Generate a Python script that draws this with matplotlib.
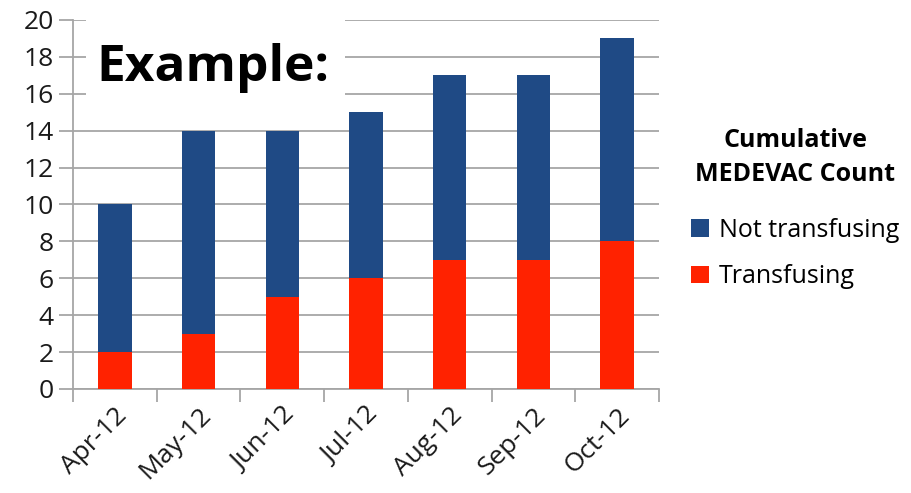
import matplotlib
matplotlib.use("Agg")
import matplotlib.pyplot as plt
import numpy as np
from matplotlib.patches import Rectangle, Patch

months = ["Apr-12", "May-12", "Jun-12", "Jul-12", "Aug-12", "Sep-12", "Oct-12"]
transfusing = [2, 3, 5, 6, 7, 7, 8]
not_transfusing = [8, 11, 9, 9, 10, 10, 11]
y_ticks = [0, 2, 4, 6, 8, 10, 12, 14, 16, 18, 20]

navy = "#1F4A85"
red = "#FF2200"
grid_c = "#A6A6A6"
font = ["Open Sans", "DejaVu Sans"]

fig = plt.figure(figsize=(9.12, 4.93), dpi=100)
ax = fig.add_axes([0.080, 0.211, 0.6426, 0.7486])

x = np.arange(len(months))
ax.bar(x, transfusing, width=0.4, color=red, zorder=3)
ax.bar(x, not_transfusing, width=0.4, bottom=transfusing, color=navy, zorder=3)

ax.set_xlim(-0.5, len(months) - 0.5)
ax.set_ylim(0, 20)
ax.set_yticks(y_ticks)
ax.set_yticklabels([str(v) for v in y_ticks], fontsize=19, family=font, color="#1a1a1a")
ax.yaxis.grid(True, color=grid_c, linewidth=1.3, zorder=0)
ax.set_axisbelow(True)

# category boundaries carry the tick marks, labels sit at the centres
ax.set_xticks(np.arange(-0.5, len(months) + 0.5, 1.0))
ax.set_xticklabels([])
ax.set_xticks(x, minor=True)
ax.set_xticklabels(months, minor=True, rotation=45, ha="right", rotation_mode="anchor",
                   fontsize=19, family=font, color="#1a1a1a")
ax.tick_params(axis="x", which="minor", length=0, pad=10)
ax.tick_params(axis="x", which="major", length=9, color=grid_c, width=1.3)
ax.tick_params(axis="y", length=10, color=grid_c, width=1.3, pad=4)

for s in ["top", "right"]:
    ax.spines[s].set_visible(False)
for s in ["left", "bottom"]:
    ax.spines[s].set_color(grid_c)
    ax.spines[s].set_linewidth(1.3)

# white panel behind the heading
ax.add_patch(Rectangle((-0.35, 15.4), 3.1, 5.4, transform=ax.transData,
                       facecolor="white", edgecolor="none", zorder=2, clip_on=False))
ax.text(-0.22, 17.4, "Example:", fontsize=37, fontweight="bold", family=font,
        va="center", ha="left", color="black", zorder=4)

handles = [Patch(facecolor=navy, label="Not transfusing"),
           Patch(facecolor=red, label="Transfusing")]
leg = fig.legend(handles=handles, loc="center", bbox_to_anchor=(0.872, 0.577),
                 frameon=False, prop={"family": font, "size": 18},
                 title="Cumulative\nMEDEVAC Count",
                 title_fontproperties={"family": font, "size": 18, "weight": "bold"},
                 handlelength=0.7, handleheight=0.7, handletextpad=0.4, labelspacing=0.85)
leg.get_title().set_multialignment("center")
leg.get_title().set_linespacing(1.5)
# extra room between the title block and the entries
leg._legend_box.sep = 22

fig.savefig("out.png", dpi=100, facecolor="white")
